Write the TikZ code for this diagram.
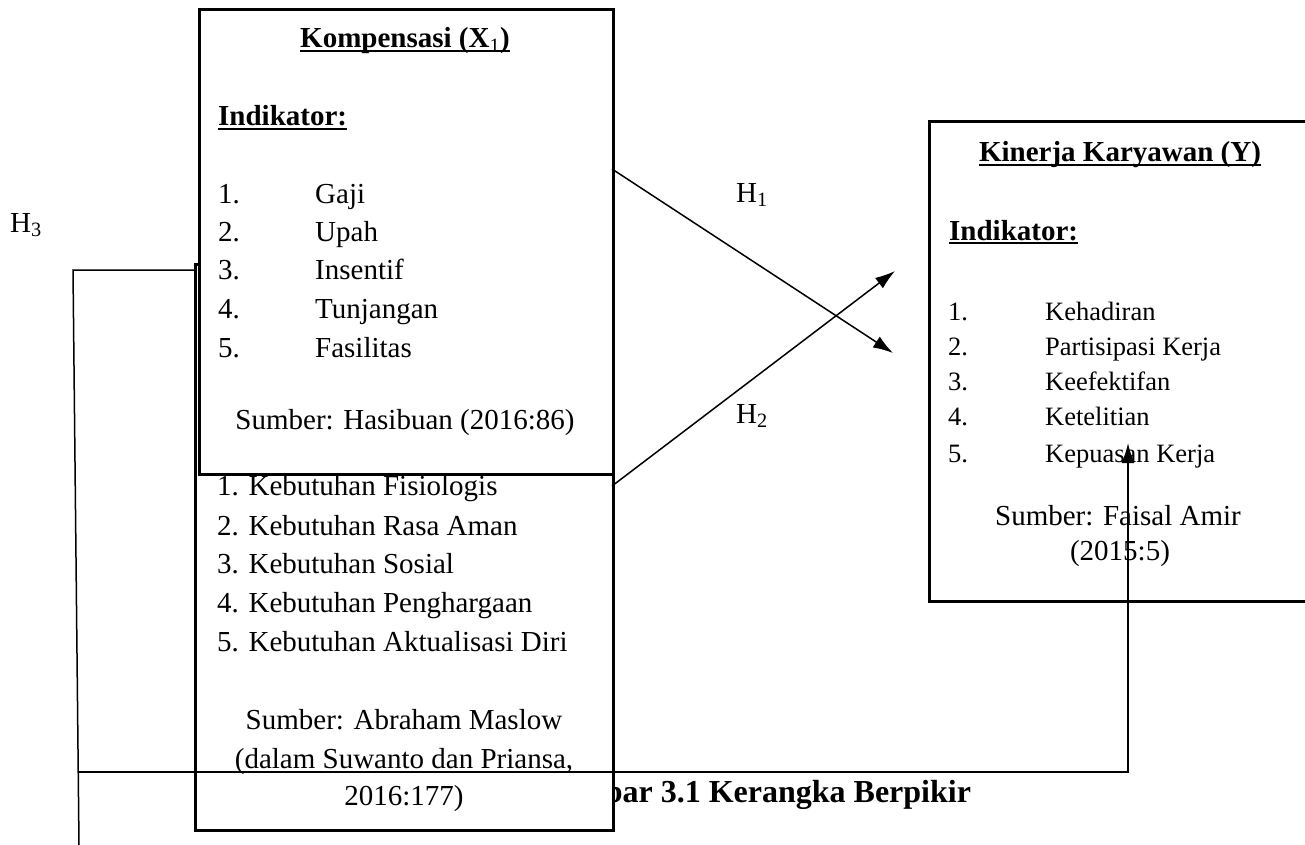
\documentclass[tikz,border=0pt]{standalone}
\usepackage{fontspec}
\setmainfont{Liberation Serif}
\usetikzlibrary{arrows.meta}
\newcommand\myul[1]{\setbox0\hbox{#1}\rlap{\rule[-0.14em]{\wd0}{0.07em}}\box0}
\begin{document}
\begin{tikzpicture}[x=1pt,y=-1pt,
  box/.style={draw, line width=3pt, fill=white, inner sep=0pt},
  conn/.style={line width=1.5pt},
  arr/.style={conn, -{Latex[length=20pt,width=13pt]}},
  txt/.style={anchor=base west, inner sep=0pt, font=\fontsize{29}{35}\selectfont},
  txtc/.style={anchor=base, inner sep=0pt, font=\fontsize{29}{35}\selectfont},
  stxt/.style={anchor=base west, inner sep=0pt, font=\fontsize{26.5}{32}\selectfont},
  btxt/.style={anchor=base west, inner sep=0pt, font=\fontsize{29}{35}\selectfont\bfseries},
  btxtc/.style={anchor=base, inner sep=0pt, font=\fontsize{29}{35}\selectfont\bfseries}]
\useasboundingbox (0,0) rectangle (1305,845);

% caption (partly hidden behind the lower box)
\node[btxt, font=\fontsize{32}{38}\selectfont\bfseries] (cap) at (537,802) {Gambar 3.1 Kerangka Berpikir};

% lower box (motivation)
\node[box, anchor=north west, minimum width=418pt, minimum height=566pt] (x2box) at (194,263) {};
\node[txt] (m1) at (217,495) {1. Kebutuhan Fisiologis};
\node[txt] (m2) at (217,535) {2. Kebutuhan Rasa Aman};
\node[txt] (m3) at (217,573) {3. Kebutuhan Sosial};
\node[txt] (m4) at (217,612) {4. Kebutuhan Penghargaan};
\node[txt] (m5) at (217,651) {5. Kebutuhan Aktualisasi Diri};
\node[txtc] (ms1) at (404,729) {Sumber: Abraham Maslow};
\node[txtc] (ms2) at (404,768) {(dalam Suwanto dan Priansa,};
\node[txtc] (ms3) at (404,805) {2016:177)};

% X1 box
\node[box, anchor=north west, minimum width=414pt, minimum height=465pt] (x1box) at (198,8) {};
\node[btxtc] (x1t) at (405,48) {\myul{Kompensasi (X\textsubscript{\mdseries 1})}};
\node[btxt] (x1i) at (218,126) {\myul{Indikator:}};
\node[txt] (xn1) at (218,203) {1.};  \node[txt] (xa1) at (315,203) {Gaji};
\node[txt] (xn2) at (218,241) {2.};  \node[txt] (xa2) at (315,241) {Upah};
\node[txt] (xn3) at (218,279) {3.};  \node[txt] (xa3) at (315,279) {Insentif};
\node[txt] (xn4) at (218,318) {4.};  \node[txt] (xa4) at (315,318) {Tunjangan};
\node[txt] (xn5) at (218,357) {5.};  \node[txt] (xa5) at (315,357) {Fasilitas};
\node[txtc] (xs) at (405,429) {Sumber: Hasibuan (2016:86)};

% Y box
\node[box, anchor=north west, minimum width=385pt, minimum height=480pt] (ybox) at (928,120) {};
\node[btxtc] (yt) at (1120,162) {\myul{Kinerja Karyawan (Y)}};
\node[btxt] (yi) at (949,240) {\myul{Indikator:}};
\node[stxt] (yn1) at (948,320) {1.};  \node[stxt] (ya1) at (1045,320) {Kehadiran};
\node[stxt] (yn2) at (948,355) {2.};  \node[stxt] (ya2) at (1045,355) {Partisipasi Kerja};
\node[stxt] (yn3) at (948,390) {3.};  \node[stxt] (ya3) at (1045,390) {Keefektifan};
\node[stxt] (yn4) at (948,425) {4.};  \node[stxt] (ya4) at (1045,425) {Ketelitian};
\node[stxt] (yn5) at (948,462) {5.};  \node[stxt] (ya5) at (1045,462) {Kepuasan Kerja};
\node[txtc] (ys1) at (1118,525) {Sumber: Faisal Amir};
\node[txtc] (ys2) at (1120,560) {(2015:5)};

% hypothesis labels
\node[txt] (h1) at (736,202) {H\textsubscript{1}};
\node[txt] (h2) at (736,423) {H\textsubscript{2}};
\node[txt] (h3) at (10,232) {H\textsubscript{3}};

% connectors
\coordinate (h1s) at (612,169);
\coordinate (h1e) at (893,353);
\coordinate (h2s) at (612,486);
\coordinate (h2e) at (895,271);
\draw[arr] (h1s) -- (h1e);
\draw[arr] (h2s) -- (h2e);

\coordinate (h3a) at (197,270);
\coordinate (h3b) at (73,270);
\coordinate (h3c) at (79,845);
\coordinate (h3d) at (78,772);
\coordinate (h3e) at (1128,772);
\coordinate (h3f) at (1128,443);
\draw[conn] (h3a) -- (h3b) -- (h3c);
\draw[arr] (h3d) -- (h3e) -- (h3f);
\end{tikzpicture}
\end{document}
